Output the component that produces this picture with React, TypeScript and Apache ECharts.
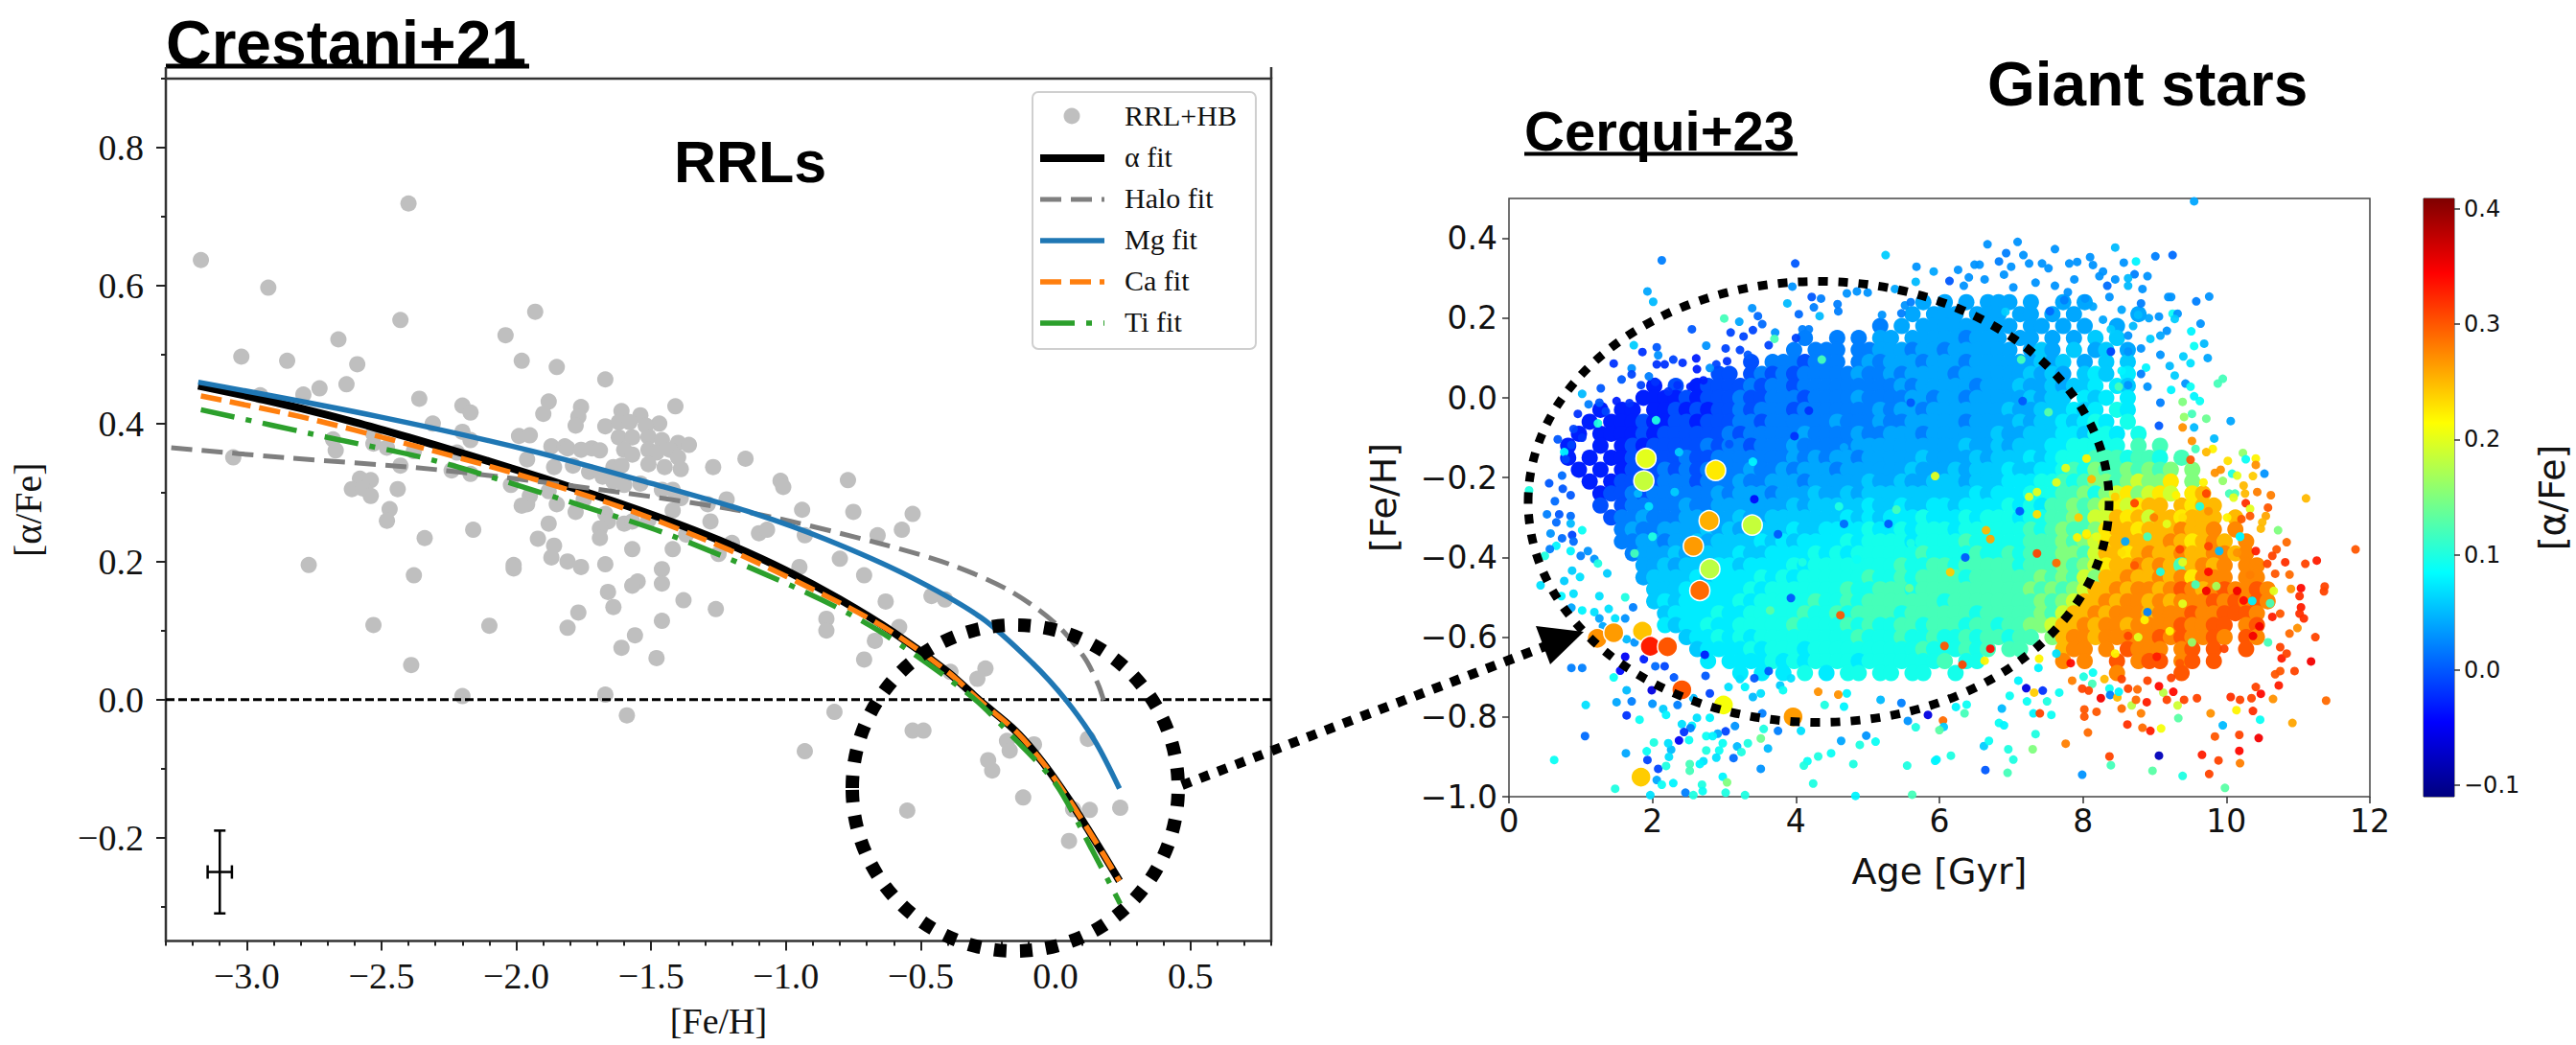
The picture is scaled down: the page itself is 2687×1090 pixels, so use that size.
import React, { useEffect, useRef } from "react";
import * as echarts from "echarts";

const W = 2687;
const H = 1090;
const SERIF = '"Liberation Serif", serif';
const SANS = '"DejaVu Sans", sans-serif';
const HELV = '"Liberation Sans", Arial, sans-serif';

// ---------- left panel: values ----------
const rrlPoints = [
  [-2.4,.719],[-3.17,.637],[-2.92,.597],[-2.43,.55],[-1.93,.562],[-2.04,.528],[-2.66,.522],[-3.02,.497],[-2.85,.491],[-1.98,.491],
  [-2.59,.486],[-1.85,.482],[-2.63,.457],[-2.73,.451],[-2.79,.442],[-2.95,.441],[-2.36,.436],[-1.88,.432],[-2.2,.426],[-2.17,.416],
  [-1.9,.414],[-2.31,.4],[-2.2,.388],[-2.17,.376],[-1.99,.382],[-1.95,.383],[-1.87,.367],[-1.82,.367],[-2.68,.377],[-2.67,.361],
  [-3.05,.351],[-2.53,.385],[-2.53,.371],[-2.48,.365],[-2.38,.36],[-1.96,.348],[-2.22,.358],[-2.43,.339],[-2.24,.332],[-2.17,.327],
  [-1.86,.337],[-2.58,.32],[-2.54,.318],[-2.61,.305],[-2.57,.306],[-2.54,.295],[-2.44,.305],[-2.02,.311],[-1.95,.295],[-1.96,.283],
  [-1.98,.281],[-1.88,.302],[-1.85,.283],[-2.47,.276],[-2.48,.259],[-1.88,.255],[-2.16,.246],[-2.34,.234],[-1.92,.233],[-1.86,.223],
  [-1.87,.206],[-2.77,.195],[-2.01,.195],[-1.67,.464],[-1.76,.424],[-1.77,.41],[-1.78,.397],[-1.41,.425],[-1.61,.418],[-1.54,.412],
  [-1.47,.4],[-1.67,.396],[-1.62,.402],[-1.58,.402],[-1.52,.397],[-1.62,.38],[-1.57,.38],[-1.51,.381],[-1.46,.376],[-1.4,.372],
  [-1.36,.369],[-1.6,.362],[-1.57,.355],[-1.51,.362],[-1.48,.358],[-1.43,.362],[-1.4,.351],[-1.81,.364],[-1.76,.362],[-1.72,.364],
  [-1.69,.361],[-1.79,.339],[-1.73,.33],[-1.64,.337],[-1.61,.339],[-1.68,.323],[-1.64,.316],[-1.51,.341],[-1.45,.337],[-1.39,.334],
  [-1.54,.313],[-1.6,.311],[-1.46,.304],[-1.42,.304],[-1.39,.292],[-1.27,.337],[-1.15,.349],[-1.02,.317],[-1.01,.308],[-1.29,.283],
  [-1.22,.29],[-.94,.275],[-1.42,.274],[-1.51,.26],[-1.6,.255],[-1.57,.258],[-1.67,.269],[-1.66,.258],[-1.78,.272],[-1.75,.29],
  [-1.69,.248],[-1.69,.234],[-1.81,.2],[-1.76,.192],[-1.67,.196],[-1.57,.218],[-1.42,.218],[-1.37,.239],[-1.28,.258],[-1.2,.227],
  [-1.1,.241],[-1.07,.246],[-.93,.238],[-1.25,.211],[-.95,.192],[-1.46,.189],[-1.55,.171],[-1.57,.165],[-1.46,.168],[-1.66,.156],
  [-1.38,.144],[-1.64,.134],[-1.26,.131],[-1.77,.126],[-1.46,.114],[-1.81,.104],[-1.56,.093],[-1.61,.075],[-1.48,.06],
  [-2.38,.18],[-2.01,.19],[-2.53,.108],[-2.1,.107],[-2.39,.05],[-2.2,.005],[-1.67,.007],[-1.59,-.023],[-.8,.204],[-.71,.18],
  [-.63,.142],[-.46,.15],[-.41,.145],[-.85,.117],[-.85,.1],[-.58,.105],[-.67,.085],[-.71,.058],[-.26,.045],[-.29,.03],
  [-.39,.04],[-.82,-.018],[-.53,-.045],[-.49,-.045],[-.93,-.075],[-.18,-.06],[-.17,-.074],[-.08,-.065],[.12,-.057],[-.25,-.088],
  [-.235,-.103],[-.12,-.142],[-.55,-.161],[.065,-.159],[.127,-.16],[.24,-.157],[.05,-.205],[-.77,.318],[-.53,.269],[-.75,.272],
  [-.57,.246],[-.66,.238],
];
const alphaFit = [[-3.18,.455],[-3,.44],[-2.8,.422],[-2.6,.402],[-2.4,.38],[-2.2,.357],[-2,.333],[-1.8,.308],[-1.6,.282],[-1.4,.254],[-1.2,.223],[-1,.187],[-.8,.145],[-.6,.097],[-.4,.04],[-.28,-.002],[-.15,-.045],[-.05,-.09],[.05,-.145],[.12,-.188],[.18,-.226],[.237,-.263]];
const haloFit = [[-3.28,.365],[-2.84,.35],[-2.29,.333],[-1.61,.3],[-1.12,.27],[-.66,.227],[-.385,.195],[-.167,.157],[0,.11],[.105,.062],[.16,.02],[.187,-.013]];
const mgFit = [[-3.18,.46],[-2.51,.41],[-1.94,.36],[-1.47,.31],[-1.12,.27],[-.85,.232],[-.55,.18],[-.277,.119],[-.086,.053],[.037,0],[.146,-.06],[.237,-.129]];
const caFit = [[-3.17,.44],[-2.8,.41],[-2.4,.37],[-2,.327],[-1.6,.277],[-1.2,.215],[-.8,.14],[-.6,.096],[-.4,.04],[-.28,-.002],[-.15,-.045],[-.05,-.09],[.05,-.145],[.12,-.188],[.18,-.226],[.237,-.263]];
const tiFit = [[-3.17,.42],[-2.7,.38],[-2.29,.345],[-1.75,.28],[-1.42,.237],[-.93,.156],[-.657,.1],[-.317,.006],[-.154,-.056],[0,-.122],[.133,-.216],[.24,-.296]];
const zeroLine = [[-3.3,0],[.8,0]];
const errorBars = [[-3.1,-.25,.045,.06]];
const xMajor = [-3,-2.5,-2,-1.5,-1,-.5,0,.5];
const xMinor = [-3.3,-3.2,-3.1,-2.9,-2.8,-2.7,-2.6,-2.4,-2.3,-2.2,-2.1,-1.9,-1.8,-1.7,-1.6,-1.4,-1.3,-1.2,-1.1,-.9,-.8,-.7,-.6,-.4,-.3,-.2,-.1,.1,.2,.3,.4,.6,.7,.8];
const yMajor = [-.2,0,.2,.4,.6,.8];
const yMinor = [-.3,-.1,.1,.3,.5,.7,.9];

// ---------- right panel: dense core, one row per [Fe/H] bin (0.03 dex), one character per 0.15 Gyr age bin ----------
const coreLevelKey = "0123456789abcd";
const coreLevels = [-.03,-.005,.02,.04,.058,.075,.095,.12,.15,.19,.225,.25,.275,.3];
const coreAgeBin = 0.15;
const coreFeH = [.24,.21,.18,.15,.12,.09,.06,.03,0,-.03,-.06,-.09,-.12,-.15,-.18,-.21,-.24,-.27,-.3,-.33,-.36,-.39,-.42,-.45,-.48,-.51,-.54,-.57,-.6,-.63,-.66,-.69];
const coreRows = [
  "..... ..... ..... ..... ..... ..... ..... ...3. 3.3.3 33.3. .3.3. ..... ..... ..... ..... .....",
  "..... ..... ..... ..... ..... ..... ..... ..3.3 33.33 3.33. 3.3.. ...3. ..... ..... ..... .....",
  "..... ..... ..... ..... ..... ..... ....2 .3.33 33333 33.33 .3.3. .3... ..... ..... ..... .....",
  "..... ..... ..... ..... ..... ..2.. 2.2.3 3.333 33233 3.33. 3.3.4 .4... ..... ..... ..... .....",
  "..... ..... ..... ..... ..... .2.22 2.223 33233 23333 33.34 3.4.3 4.3.. ..... ..... ..... .....",
  "..... ..... ..... ..... ..1.2 22122 2.232 33323 33233 33334 34.3. 4.4.. ..... ..... ..... .....",
  "..... ..... ..... ....1 1.121 21222 22322 32333 32333 33343 43.45 4.5.. ..... ..... ..... .....",
  "..... ..... ...0. 1.011 11212 21222 22222 23233 33323 33433 43445 .54.. ..... ..... ..... .....",
  "..... ..... ..000 01011 12112 22122 22322 22332 33233 33343 44.54 5.5.. ..... ..... ..... .....",
  "..... ...0. 00.00 10101 12122 21222 22223 23323 33333 34334 44545 .65.. ..... ..... ..... .....",
  "..... ..0.0 00100 11011 12212 22222 32223 22333 33233 33434 45456 5.6.. ..... ..... ..... .....",
  "..... .0.00 00101 11111 21222 22322 22322 33323 33333 43344 45546 65.6. ..... ..... ..... .....",
  "..... 0..0. 01011 11121 22122 23222 22333 33333 33433 43444 55666 66.7. 7.... ..... ..... .....",
  "..... 0.0.0 01111 12112 22222 23232 33233 33343 33343 44454 56667 77677 6.7.. ..... ..... .....",
  "..... .0.0. 01112 12122 22322 32333 23333 33433 34344 45445 56768 77878 78.8. ..... ..... .....",
  "..... ..0.0 11212 22122 23223 33233 33343 34334 44344 45556 67678 87898 8a.8. ..... ..... .....",
  "..... ...01 12122 22223 23332 33343 34344 44444 44454 55566 67786 89a89 a9.ab ..... ..... .....",
  "..... ...1. 12222 23223 33333 34344 44454 45445 54555 56565 77878 9a9ab b.bab b.... ..... .....",
  "..... ....1 22322 23333 34334 44444 45454 55565 55656 66566 77879 9bab9 bbabb b.b.. ..... .....",
  "..... ..... 23223 33343 43444 45445 55565 56566 65666 66676 78778 abbab bbcbb c.c.. ..... .....",
  "..... ..... 22332 33434 44454 54555 56566 66566 66766 66677 78789 abbbb bcbab cb.c. ..... .....",
  "..... ..... .2333 43444 45445 55565 65666 66676 66676 67677 78879 bbabc bbcbb ccbc. ..... .....",
  "..... ..... ..334 34445 54555 56566 66666 67667 76777 77677 78789 abbcb cb7bc bc.cc ..... .....",
  "..... ..... ..344 44545 55565 65666 66676 67677 77677 77778 78798 bbcbb cbcac cc.cc ..... .....",
  "..... ..... ...44 45455 55656 66666 67667 77677 77777 77787 8789b bcbcc bcdcb cdccd c.... .....",
  "..... ..... ...45 45555 56566 66676 67677 77777 67777 77778 789bb cbccb cbccc dcdcd c.... .....",
  "..... ..... ....4 55556 55666 66766 76777 76777 77767 77778 79bbc bcccb cccdc cdddc ..... .....",
  "..... ..... ....5 45565 56666 67666 67676 67767 77677 67788 9bbcb ccbcc ccdcc dd.cd ..... .....",
  "..... ..... ..... .4556 56566 66666 66766 67667 66767 7677. 8bccb ccccc dcdcc dc.dc ..... .....",
  "..... ..... ..... ..455 55656 66566 66666 66676 66767 .77.. .bcc. c.dcc c.cd. d..d. ..... .....",
  "..... ..... ..... ...5. 55556 56566 66566 66666 7.66. ..... .c.c. .d.cd d.cd. d.... ..... .....",
  "..... ..... ..... ..... .5.5. 5.6.5 .66.6 6.66. .6... ..... ..... .c... ..d.. ..... ..... .....",
];

// ---------- right panel: individually read stars [age, [Fe/H], [alpha/Fe]] ----------
const upperLeftStars = [
  [2.13,.345,.02],[3.99,.337,0],[5.25,.358,.06],[5.68,.329,.03],[5.92,.317,.04],[1.93,.267,.04],[2.01,.241,.05],[3,.199,.12],[3.21,.191,.04],[3.39,.225,.03],
  [3.95,.279,.03],[3.88,.237,.05],[4.22,.253,0],[4.35,.249,.02],[4.25,.227,.02],[4.58,.235,.02],[4.59,.217,.02],[4.04,.21,.01],[4.33,.205,.05],[4.71,.262,.03],
  [4.85,.267,.03],[5,.264,.03],[5.2,.208,.03],[5.67,.291,.05],[5.38,.273,.04],[5.52,.232,.03],[5.6,.24,.02],[5.47,.212,.02],[2.55,.172,0],[3.09,.164,-.01],
  [3.47,.205,.01],[3.53,.185,.01],[3.4,.17,-.01],[3.27,.154,-.01],[3.71,.164,.03],[3.7,.148,.12],[4,.15,-.01],[4.09,.172,.02],[4.18,.172,.02],[3.62,.132,-.01],
  [3.02,.124,-.01],[2.75,.131,.03],[3.22,.12,-.01],[3.33,.108,0],[1.86,.115,-.02],[2.06,.127,0],[2.08,.107,.03],[1.74,.132,.06],[1.46,.086,-.02],[1.71,.074,.03],
  [1.71,.059,-.01],[1.57,.046,0],[1.95,.054,.02],[1.84,.032,-.01],[2.06,.084,-.02],[2.17,.084,-.02],[2.29,.096,-.01],[2.42,.088,-.02],[2.61,.099,-.03],[2.62,.072,-.03],
  [2.89,.084,-.01],[2.8,.075,.03],[3.04,.092,-.02],[2.04,.04,-.02],[2.35,.032,-.02],[2.53,.028,-.03],[2.71,.044,-.03],[2.22,.016,-.02],[1.28,.024,0],[1.02,.01,.05],
  [1.5,-.008,-.03],[1.68,-.013,-.02],[1.26,-.012,0],[1.11,-.016,.02],[.96,-.04,-.02],[1.35,-.034,-.01],[1.24,-.064,.1],[.9,-.078,-.01],[.68,-.104,0],[1.02,-.1,-.02],
  [.87,-.118,-.01],[.77,-.136,.08],[.79,-.154,-.01],[.74,-.195,.01],[.56,-.214,0],[.75,-.228,0],[.28,-.232,.1],[.64,-.259,.01],[.86,-.244,0],[.53,-.292,.02],
  [.7,-.292,0],[.86,-.296,.01],[.66,-.312,.01],[.86,-.315,.05],[1.02,-.332,.09],[.58,-.34,.03],[.88,-.344,-.01],[.74,-.352,.01],[.9,-.36,.01],[.66,-.371,.08],
  [.57,-.379,.02],[.5,-.396,.1],[.86,-.384,.08],[1,-.396,.02],[1.1,-.384,.03],[1.19,-.404,.03],[1.24,-.415,.1],[.88,-.433,.06],[.99,-.449,.07],[.77,-.459,.06],
  [1.37,-.44,.06],[.44,-.47,.07],[.9,-.491,.07],[.73,-.497,.08],[1.26,-.497,.07],[.87,-.526,.04],[1.02,-.533,.08],[1.19,-.537,.07],[1.39,-.529,.07],[1.26,-.553,.04],
  [1.48,-.553,.07],[1.62,-.5,.1],[1.73,-.525,.02],[1.62,-.553,.03],[1.31,-.573,.04],[1.64,-.605,.05],[1.75,-.613,.03],
];
const upperRightStars = [
  [9.55,.493,.04],[6.67,.385,.03],[7.09,.391,.03],[7.61,.373,.03],[8.45,.377,.05],[9.01,.355,.02],[9.25,.358,.01],[8.74,.342,.08],[8.57,.339,.03],[6.93,.363,.02],
  [6.83,.342,.02],[7.17,.358,.03],[6.49,.334,.03],[6.56,.334,.03],[6.26,.321,.03],[6.14,.293,0],[7,.329,.03],[7.25,.337,.03],[7.43,.337,.03],[7.52,.325,.03],
  [7.81,.337,.03],[7.92,.341,.03],[8.1,.353,.03],[8.14,.333,.03],[8.28,.317,.03],[8.23,.305,.03],[8.72,.31,.02],[8.9,.305,.03],[8.63,.3,.05],[8.63,.281,.05],
  [8.83,.273,.03],[8.45,.297,.03],[8.34,.281,.01],[6.9,.309,.03],[6.63,.297,.03],[6.41,.302,.03],[6.34,.281,.03],[7.03,.277,.03],[7.34,.289,.03],[7.61,.281,.03],
  [7.88,.297,.03],[7.79,.265,.03],[8.03,.249,.03],[8.37,.253,.03],[9.19,.253,.03],[9.23,.253,.03],[9.76,.254,.03],[9.58,.242,.02],[8.81,.237,.02],[8.14,.229,.04],
  [7.74,.245,.02],[7.54,.217,.01],[8.28,.196,.04],[8.54,.221,.04],[8.77,.208,.05],[8.92,.2,.04],[9.06,.204,.03],[9.25,.211,.09],[9.32,.211,.03],[9.28,.198,.06],
  [9.64,.186,.03],[9.51,.167,.08],[8.39,.172,.06],[8.7,.18,.05],[9.17,.168,.03],[8.94,.148,.06],[9.08,.156,.04],[9.69,.136,.05],[9.55,.13,.09],[8.39,.116,-.01],
  [8.63,.156,.03],[8.63,.116,.03],[8.81,.124,.03],[9.08,.108,.03],[9.4,.104,.06],[9.74,.1,.04],[9.5,.087,.07],[9.21,.08,.05],[8.88,.076,.08],[8.54,.068,.08],
  [8.81,.06,.02],[9.95,.048,.12],[9.88,.036,.12],[8.63,.032,.03],[8.5,.028,.12],[8.9,.028,.03],[9.28,.056,.06],[9.43,.036,.03],[9.5,.028,.09],[9.23,.02,.08],
  [9.08,-.012,.02],[9.39,-.01,.15],[9.63,-.008,.09],[9.55,.004,.08],[9.52,-.04,.12],[9.72,-.052,.14],[9.41,-.048,.16],[10.06,-.058,.04],[9.06,-.07,0],[9.39,-.074,.27],
  [9.55,-.074,.05],[9.83,-.102,.05],[9.52,-.108,.27],[9.57,-.128,.12],[9.81,-.128,.22],[9.72,-.136,.25],[10.23,-.138,.16],[10.27,-.154,.09],[10.41,-.152,.22],[10.41,-.168,.27],
  [10.02,-.158,.23],[9.5,-.155,.3],[10.53,-.19,.03],[10.08,-.19,.1],[10.15,-.195,.2],[10.37,-.196,.24],[9.95,-.208,.16],[9.84,-.188,.27],[9.92,-.18,.27],[9.68,-.212,.22],
  [10.24,-.22,.25],[10.26,-.24,.25],[10.04,-.24,.12],[10.12,-.24,.12],[10.1,-.25,.2],[10.43,-.236,.28],[10.62,-.244,.28],[11.11,-.252,.25],[9.72,-.24,.31],[10.27,-.264,.32],
  [10.33,-.278,.2],[10.58,-.275,.3],[10.55,-.296,.26],[10.5,-.312,.25],[10.48,-.328,.25],[10.33,-.296,.3],[10.21,-.304,.3],[10.72,-.332,.15],[10.84,-.362,.29],[10.19,-.348,.1],
  [11.8,-.38,.3],[11.26,-.408,.33],[11.1,-.416,.31],[10.7,-.38,.3],[10.64,-.396,.31],[10.82,-.412,.32],[10.57,-.416,.31],[10.68,-.441,.3],[10.88,-.443,.29],[11.04,-.477,.34],
  [11.37,-.473,.31],[11.36,-.485,.31],[10.9,-.479,.27],[11.02,-.497,.32],[11.04,-.525,.33],[11.02,-.541,.32],[11.08,-.553,.32],
];
const lowerRightStars = [
  [11.39,-.759,.29],[10.92,-.815,.26],[10.47,-.807,.09],[10.14,-.783,.22],[10.37,-.785,.32],[9.95,-.821,.05],[9.78,-.791,.27],[9.33,-.803,.13],[9.32,-.771,.19],[8.89,-.763,.33],
  [8.68,-.771,.18],[8.54,-.779,.29],[8.81,-.791,.28],[8.02,-.781,.3],[8.02,-.799,.3],[8.19,-.787,.3],[8.62,-.819,.32],[8.83,-.827,.29],[8.94,-.835,.33],[9.09,-.829,.21],
  [8.07,-.839,.29],[7.76,-.867,.28],[8.37,-.899,.31],[8.39,-.921,.12],[7.99,-.945,.03],[9.06,-.897,-.08],[8.97,-.935,.13],[9.39,-.948,.1],[9.76,-.943,.31],[9.66,-.895,.33],
  [9.89,-.909,.31],[10.19,-.916,.28],[10.18,-.885,.34],[10.18,-.845,.31],[9.84,-.849,.3],[10.45,-.853,.35],[9.98,-.978,.13],[7.34,-.843,.1],[7.3,-.881,.15],[6.87,-.779,.05],
  [6.62,-.873,.06],[6.69,-.86,.09],[6.96,-.881,.1],[7.03,-.907,.1],[6.64,-.933,0],[6.95,-.94,.12],[6.16,-.897,.1],[5.96,-.907,.08],[6.83,-.815,.09],[6.9,-.821,.08],
  [6.05,-.809,.29],[6.06,-.825,.06],[6,-.833,.13],[7.21,-.728,-.06],[7.44,-.734,-.02],[7.32,-.739,.24],[7.56,-.795,.09],[7.31,-.791,.08],[7.4,-.791,.31],[7.67,-.739,.09],
  [7.5,-.761,.1],[7.22,-.761,.09],[6.98,-.747,.09],[7.1,-.709,.08],[7.38,-.677,.08],[7.63,-.641,.07],[7.39,-.654,.22],[6.63,-.659,.22],[6.71,-.629,.34],[6.32,-.669,.31],
  [6.07,-.622,.3],[6.38,-.769,.09],[6.35,-.791,.12],[6.23,-.775,.08],[7.83,-.665,.34],[7.85,-.709,.28],[8.01,-.699,.1],[8.14,-.689,.09],[8.13,-.717,.12],[7.99,-.729,.31],
  [8.08,-.734,.31],[8.37,-.729,.09],[8.38,-.745,.02],[8.25,-.753,.35],[8.48,-.751,.25],[8.5,-.737,.08],[8.3,-.705,.25],[8.54,-.705,.31],[8.63,-.729,.31],[8.76,-.731,.29],
  [8.74,-.757,.29],[9.12,-.739,.18],[9.06,-.723,.34],[9.26,-.737,.34],[9.17,-.757,.31],[9.41,-.757,.31],[9.59,-.753,.31],[9.23,-.702,.31],[8.9,-.709,.31],[10.06,-.75,.32],
  [10.19,-.757,.31],[10.35,-.753,.31],[10.48,-.742,.34],[10.65,-.755,.27],[10.73,-.721,.33],[10.41,-.725,.31],[10.68,-.693,.3],[10.75,-.685,.3],[10.95,-.685,.31],[11.18,-.661,.35],
  [10.77,-.653,.33],[10.84,-.641,.31],[10.75,-.625,.31],[10.58,-.613,.12],[10.88,-.591,.29],[10.99,-.577,.27],[11.24,-.6,.31],[10.64,-.549,.33],[10.75,-.541,.3],[10.61,-.515,.12],
  [10.36,-.509,.08],[10.66,-.484,.2],
];
const oldCoreSpeckles = [
  [9.72,-.484,.35],[9.39,-.412,.2],[9.75,-.436,.34],[9.57,-.468,.12],[9.86,-.472,.17],[9.39,-.516,.2],[8.9,-.537,.02],[9.52,-.613,.16],[9.21,-.585,.22],[8.77,-.6,.2],
  [8.45,-.641,.22],[8.86,-.557,.22],[10.37,-.597,.35],[10.24,-.508,.34],[10.15,-.484,.35],[10.46,-.573,.35],[9.97,-.629,.31],[9.35,-.665,.3],[9.03,-.649,.33],[8.63,-.597,.31],
  [8.72,-.42,.3],[8.54,-.388,.23],[9.08,-.436,.1],[8.9,-.348,.12],[9.17,-.316,.2],[9.39,-.3,.23],[9.63,-.272,.1],[9.9,-.384,.05],[10.19,-.348,.08],[10.01,-.3,.22],
  [8.99,-.3,.28],[8.72,-.264,.31],[9.3,-.244,.22],[9.75,-.284,.27],[9.35,-.38,.31],[9.75,-.372,.31],[10.15,-.388,.27],[10.41,-.384,.33],[10.33,-.444,.28],[8.59,-.36,.04],
  [8.19,-.348,.2],[8.05,-.344,.23],[6.36,-.4,0],[6.15,-.437,.24],[6.71,-.354,.26],[7.36,-.39,.31],[7.12,-.284,0],[6.65,-.332,.25],[7.36,-.236,.2],[7.63,-.212,.2],
  [7.25,-.248,.2],[7.76,-.176,.2],[8.05,-.152,.22],[8.12,-.204,.25],[8.45,-.248,.24],[7.94,-.3,.24],[8.05,-.34,.22],[7.36,-.292,.23],[7.92,-.35,.22],[7.63,-.414,.29],
  [7.14,.096,.12],[7.52,-.036,.13],[7.16,-.008,0],[6.92,.216,.06],
];
const youngCoreSpeckles = [
  [4.18,-.032,-.02],[3.98,-.096,-.02],[4.67,-.316,.01],[5.29,-.316,0],[3.75,-.342,0],[3.93,-.502,0],[3.42,-.254,-.04],[2.37,-.136,.06],[3.4,-.16,.08],[2,-.348,.1],
  [1.75,-.39,.12],[2.31,-.236,.06],[1.8,-.24,.05],[1.95,-.272,.07],[3.07,-.116,0],[4.67,-.124,.04],[5.6,-.012,0],[4.6,-.272,.1],[5.4,-.28,.12],[5.94,-.196,.2],
  [4.36,.096,.12],[2.05,-.056,.1],[4.62,-.545,.3],[3.64,-.533,.13],[4.09,-.412,.1],[5.58,-.477,.14],[4.85,-.405,.09],[5.6,-.364,.1],
];
const lowerLeftStars = [
  [.87,-.677,.02],[1.02,-.677,.02],[1.46,-.701,.09],[1.64,-.733,.05],[1.5,-.763,.04],[1.71,-.761,.02],[1.07,-.77,.07],[1.64,-.796,-.02],[1.82,-.807,.09],[1.06,-.848,.01],
  [2,-.767,.03],[2.15,-.78,.06],[2.19,-.795,.08],[1.99,-.733,-.06],[1.55,-.684,-.04],[1.62,-.649,-.05],[1.88,-.655,-.03],[2.04,-.673,.01],[2.17,-.673,-.01],[2.3,-.701,0],
  [2.35,-.77,.02],[2.57,-.753,.05],[2.74,-.697,0],[2.73,-.644,-.03],[2.8,-.741,-.01],[3.06,-.725,.07],[3.22,-.705,.07],[3.29,-.725,.08],[3.4,-.75,.05],[3.51,-.741,.07],
  [3.42,-.703,0],[3.62,-.685,0],[3.78,-.721,.06],[3.93,-.703,.07],[3.82,-.733,.09],[4.31,-.737,.27],[4.59,-.744,.27],[4.4,-.77,.1],[4.71,-.741,.08],[4.67,-.774,.08],
  [5.18,-.757,.05],[5.47,-.765,.02],[5.56,-.81,.03],[5.67,-.826,.1],[5.84,-.795,-.06],[4.98,-.847,.03],[5.11,-.862,.09],[4.89,-.87,.1],[4.63,-.86,.04],[4.8,-.918,.1],
  [4.49,-.891,.09],[4.31,-.899,.1],[4.16,-.911,.09],[4.11,-.922,.1],[5.55,-.922,.1],[5.94,-.91,.08],[4.24,-.967,.1],[5.62,-.995,.12],[4.83,-.998,.08],[3.75,-.835,.02],
  [4.07,-.835,.07],[3.53,-.791,.02],[3.55,-.83,.1],[3.51,-.854,.14],[3.61,-.879,.05],[3.51,-.93,.03],[3.15,-.823,.03],[3.02,-.836,-.01],[2.91,-.842,.04],[2.8,-.802,.08],
  [2.62,-.802,.07],[2.55,-.822,.08],[2.41,-.818,.07],[2.53,-.828,.02],[2.44,-.838,-.02],[2.37,-.859,-.05],[2.51,-.858,.09],[2.75,-.848,.09],[2.84,-.848,.08],[2.26,-.882,.05],
  [2.22,-.866,.07],[2.02,-.864,.1],[1.92,-.886,.09],[1.63,-.891,.04],[1.93,-.908,-.01],[2.23,-.9,.07],[2.08,-.93,-.01],[2.19,-.923,.1],[.63,-.908,.09],[2.52,-.918,.12],
  [2.52,-.935,.12],[2.71,-.911,.07],[2.66,-.918,.08],[2.75,-.884,.1],[2.98,-.866,.09],[2.93,-.884,.09],[2.89,-.902,.07],[3.13,-.903,.01],[3.18,-.874,.05],[3.24,-.888,.1],
  [3.33,-.866,.1],[2.98,-.95,.08],[3.04,-.964,.15],[2.06,-.958,.04],[2.13,-.97,.09],[2.29,-.966,.08],[1.48,-.98,.1],[2.69,-.97,.1],[2.7,-.986,.09],[2.46,-.99,.02],
  [1.97,-.996,.07],[3.02,-.99,.1],[2.57,-.996,.1],[3.29,-.996,.1],
];
const highlightedStars = [
  [1.91,-.152,.2],[1.88,-.208,.185],[2.88,-.182,.225],[2.79,-.308,.255],[3.39,-.319,.185],[2.57,-.372,.265],[2.8,-.429,.18],[2.66,-.483,.29],
  [1.23,-.603,.27],[1.46,-.589,.265],[1.86,-.585,.245],[1.97,-.623,.33],[2.21,-.624,.3],[2.41,-.732,.3],[2.99,-.77,.21],[3.96,-.8,.265],[1.84,-.951,.24],
];
const ageTicks = [0,2,4,6,8,10,12];
const fehTicks = [-1,-.8,-.6,-.4,-.2,0,.2,.4];
const colorbarTicks = [-.1,0,.1,.2,.3,.4];
const colorbarRange = [[0,-.11,.409]];
const jet = ["#00007f","#0000ff","#007fff","#00ffff","#7fff7f","#ffff00","#ff7f00","#ff0000","#7f0000"];

const coreStars = coreRows.flatMap((row, r) =>
  row.replace(/ /g, "").split("").flatMap((c, i) =>
    c === "." ? [] : [[(i + 0.5) * coreAgeBin, coreFeH[r], coreLevels[coreLevelKey.indexOf(c)]]]
  )
);

const fmt1 = (v: number) => v.toFixed(1).replace("-", "\u2212");
const dark = "#333333";

function minorAxis(gridIndex: number, position: string, values: number[], min: number, max: number) {
  return {
    gridIndex, min, max, type: "value", position,
    axisLine: { show: false, onZero: false },
    axisLabel: { show: false },
    splitLine: { show: false },
    axisTick: { show: true, length: 5, customValues: values, lineStyle: { color: "#222", width: 2 } },
  };
}

const scatterDots = (data: number[][]) => ({
  type: "scatter" as const, xAxisIndex: 2, yAxisIndex: 2, data, symbolSize: 9, silent: true,
  itemStyle: { opacity: 0.95 },
});

const swatch = (y: number, color: string, lineWidth: number, lineDash?: number[]) => ({
  type: "line", z: 100, shape: { x1: 1085, y1: y, x2: 1152, y2: y }, style: { stroke: color, lineWidth, lineDash },
});

export default function App() {
  const ref = useRef<HTMLDivElement>(null);
  useEffect(() => {
    document.body.style.margin = "0";
    document.body.style.background = "#fff";
    const chart = echarts.init(ref.current!, undefined, { renderer: "svg", width: W, height: H });
    const option: any = {
      animation: false,
      backgroundColor: "#fff",
      grid: [
        { left: 173, top: 82, width: 1153, height: 899.5, show: true, borderColor: dark, borderWidth: 2.5, backgroundColor: "transparent", outerBoundsMode: "none" },
        { left: 1574, top: 207, width: 898, height: 624, show: true, borderColor: "#444", borderWidth: 1.5, backgroundColor: "transparent", outerBoundsMode: "none" },
        { left: 2528, top: 207, width: 32, height: 624, show: true, borderColor: "#333", borderWidth: 1, backgroundColor: "transparent", outerBoundsMode: "none" },
      ],
      xAxis: [
        {
          gridIndex: 0, type: "value", position: "bottom", min: -3.3, max: 0.8, name: "[Fe/H]", nameLocation: "middle", nameGap: 64,
          nameTextStyle: { fontFamily: SERIF, fontSize: 38, color: "#111" },
          axisLine: { show: false, onZero: false }, splitLine: { show: false },
          axisTick: { length: 10, customValues: xMajor, lineStyle: { color: "#222", width: 2 } },
          axisLabel: { customValues: xMajor, formatter: fmt1, margin: 17, fontFamily: SERIF, fontSize: 38, color: "#111" },
        },
        minorAxis(0, "bottom", xMinor, -3.3, 0.8),
        {
          gridIndex: 1, type: "value", min: 0, max: 12, name: "Age [Gyr]", nameLocation: "middle", nameGap: 59,
          nameTextStyle: { fontFamily: SANS, fontSize: 38, color: "#111" },
          axisLine: { show: false, onZero: false }, splitLine: { show: false },
          axisTick: { length: 7, customValues: ageTicks, lineStyle: { color: "#333", width: 1.5 } },
          axisLabel: { customValues: ageTicks, formatter: (v: number) => String(v), margin: 9, fontFamily: SANS, fontSize: 33, color: "#111" },
        },
        { gridIndex: 2, type: "value", min: 0, max: 1, show: false },
      ],
      yAxis: [
        {
          gridIndex: 0, type: "value", position: "left", min: -0.35, max: 0.9, name: "[\u03b1/Fe]", nameLocation: "middle", nameGap: 124, nameRotate: 90,
          nameTextStyle: { fontFamily: SERIF, fontSize: 40, color: "#111" },
          axisLine: { show: false, onZero: false }, splitLine: { show: false },
          axisTick: { length: 10, customValues: yMajor, lineStyle: { color: "#222", width: 2 } },
          axisLabel: { customValues: yMajor, formatter: fmt1, margin: 23, fontFamily: SERIF, fontSize: 38, color: "#111" },
        },
        minorAxis(0, "left", yMinor, -0.35, 0.9),
        {
          gridIndex: 1, type: "value", min: -1, max: 0.5, name: "[Fe/H]", nameLocation: "middle", nameGap: 112, nameRotate: 90,
          nameTextStyle: { fontFamily: SANS, fontSize: 38, color: "#111" },
          axisLine: { show: false, onZero: false }, splitLine: { show: false },
          axisTick: { length: 7, customValues: fehTicks, lineStyle: { color: "#333", width: 1.5 } },
          axisLabel: { customValues: fehTicks, formatter: fmt1, margin: 12, fontFamily: SANS, fontSize: 33, color: "#111" },
        },
        {
          gridIndex: 2, type: "value", min: -0.11, max: 0.409, position: "right", name: "[\u03b1/Fe]", nameLocation: "middle", nameGap: 83, nameRotate: 90,
          nameTextStyle: { fontFamily: SANS, fontSize: 38, color: "#111" },
          axisLine: { show: false, onZero: false }, splitLine: { show: false },
          axisTick: { length: 6, customValues: colorbarTicks, lineStyle: { color: "#333", width: 1.5 } },
          axisLabel: { customValues: colorbarTicks, formatter: fmt1, margin: 10, fontFamily: SANS, fontSize: 24, color: "#111" },
        },
      ],
      legend: {
        left: 1077, top: 96, orient: "vertical", selectedMode: false, itemWidth: 67, itemHeight: 17, itemGap: 13,
        padding: [9, 20, 14, 8], borderColor: "#cfcfcf", borderWidth: 2, borderRadius: 6, backgroundColor: "rgba(255,255,255,0.9)",
        itemStyle: { opacity: 0 }, lineStyle: { opacity: 0 },
        textStyle: { fontFamily: SERIF, fontSize: 30, color: "#111", padding: [0, 0, 0, 15] },
        data: ["RRL+HB", "\u03b1 fit", "Halo fit", "Mg fit", "Ca fit", "Ti fit"],
      },
      visualMap: {
        show: false, type: "continuous", min: -0.11, max: 0.409, dimension: 2,
        seriesIndex: [8, 9, 10, 11, 12, 13, 14, 15],
        inRange: { color: jet },
      },
      series: [
        { name: "RRL+HB", type: "scatter", xAxisIndex: 0, yAxisIndex: 0, data: rrlPoints, symbolSize: 17, itemStyle: { color: "#bfbfbf", opacity: 1 } },
        {
          name: "zero", type: "line", xAxisIndex: 0, yAxisIndex: 0, data: zeroLine, symbol: "none",
          lineStyle: { color: "#000", width: 3, type: [9, 4] },
        },
        { name: "\u03b1 fit", type: "line", xAxisIndex: 0, yAxisIndex: 0, data: alphaFit, symbol: "none", smooth: 0.3, lineStyle: { color: "#000", width: 8 }, itemStyle: { color: "#000" } },
        { name: "Halo fit", type: "line", xAxisIndex: 0, yAxisIndex: 0, data: haloFit, symbol: "none", smooth: 0.3, lineStyle: { color: "#7f7f7f", width: 5, type: [22, 10] }, itemStyle: { color: "#7f7f7f" } },
        { name: "Mg fit", type: "line", xAxisIndex: 0, yAxisIndex: 0, data: mgFit, symbol: "none", smooth: 0.3, lineStyle: { color: "#1f77b4", width: 5.5 }, itemStyle: { color: "#1f77b4" } },
        { name: "Ca fit", type: "line", xAxisIndex: 0, yAxisIndex: 0, data: caFit, symbol: "none", smooth: 0.3, lineStyle: { color: "#ff7f0e", width: 5.5, type: [22, 9] }, itemStyle: { color: "#ff7f0e" } },
        { name: "Ti fit", type: "line", xAxisIndex: 0, yAxisIndex: 0, data: tiFit, symbol: "none", smooth: 0.3, lineStyle: { color: "#2ca02c", width: 5.5, type: [36, 12, 6, 12] }, itemStyle: { color: "#2ca02c" } },
        {
          name: "errors", type: "custom", xAxisIndex: 0, yAxisIndex: 0, data: errorBars, silent: true,
          renderItem: (_p: any, api: any) => {
            const x = api.value(0), y = api.value(1), dx = api.value(2), dy = api.value(3);
            const c = api.coord([x, y]), t = api.coord([x, y + dy]), b = api.coord([x, y - dy]), l = api.coord([x - dx, y]), r = api.coord([x + dx, y]);
            const s = { stroke: "#000", lineWidth: 2.5 };
            const ln = (a: number[], e: number[]) => ({ type: "line", shape: { x1: a[0], y1: a[1], x2: e[0], y2: e[1] }, style: s });
            return {
              type: "group",
              children: [
                ln(t, b), ln(l, r),
                ln([t[0] - 6, t[1]], [t[0] + 6, t[1]]), ln([b[0] - 6, b[1]], [b[0] + 6, b[1]]),
                ln([l[0], c[1] - 7], [l[0], c[1] + 7]), ln([r[0], c[1] - 7], [r[0], c[1] + 7]),
              ],
            };
          },
        },
        // series index 8 onward: right panel, coloured by [alpha/Fe]
        { type: "scatter", xAxisIndex: 2, yAxisIndex: 2, data: coreStars, symbolSize: 17, silent: true, itemStyle: { opacity: 1 } },
        scatterDots(upperLeftStars),
        scatterDots(upperRightStars),
        scatterDots(lowerRightStars),
        scatterDots(oldCoreSpeckles),
        scatterDots(youngCoreSpeckles),
        scatterDots(lowerLeftStars),
        {
          type: "scatter", xAxisIndex: 2, yAxisIndex: 2, data: highlightedStars, symbolSize: 21, silent: true,
          itemStyle: { borderColor: "#fff", borderWidth: 1.5, opacity: 1 },
        },
        {
          name: "colorbar", type: "custom", xAxisIndex: 3, yAxisIndex: 3, data: colorbarRange, silent: true,
          encode: { y: [1, 2] },
          renderItem: (_p: any, api: any) => {
            const a = api.coord([api.value(0), api.value(1)]);
            const b = api.coord([1, api.value(2)]);
            const stops = jet.map((color, i) => ({ offset: i / (jet.length - 1), color }));
            return {
              type: "rect",
              shape: { x: a[0], y: b[1], width: b[0] - a[0], height: a[1] - b[1] },
              style: { fill: new echarts.graphic.LinearGradient(0, 1, 0, 0, stops) },
            };
          },
        },
      ],
      graphic: [
        { type: "text", z: 100, left: 173, top: 12, style: { text: "Crestani+21", font: `bold 66px ${HELV}`, fill: "#000" } },
        { type: "rect", z: 100, shape: { x: 173, y: 66.5, width: 379, height: 5 }, style: { fill: "#000" } },
        { type: "text", z: 100, left: 703, top: 138, style: { text: "RRLs", font: `bold 61px ${HELV}`, fill: "#000" } },
        { type: "text", z: 100, left: 2073, top: 56, style: { text: "Giant stars", font: `bold 64px ${HELV}`, fill: "#000" } },
        { type: "text", z: 100, left: 1590, top: 107, style: { text: "Cerqui+23", font: `bold 58px ${HELV}`, fill: "#000" } },
        { type: "rect", z: 100, shape: { x: 1590, y: 158.5, width: 285, height: 4 }, style: { fill: "#000" } },
        { type: "line", z: 100, shape: { x1: 173, y1: 70, x2: 173, y2: 82 }, style: { stroke: dark, lineWidth: 2.5 } },
        { type: "line", z: 100, shape: { x1: 1326, y1: 70, x2: 1326, y2: 82 }, style: { stroke: dark, lineWidth: 2.5 } },
        { type: "circle", z: 100, shape: { cx: 1118, cy: 121, r: 8.5 }, style: { fill: "#bfbfbf" } },
        swatch(165, "#000", 8),
        swatch(208, "#7f7f7f", 5, [22, 10]),
        swatch(251, "#1f77b4", 5.5),
        swatch(294, "#ff7f0e", 5.5, [22, 9]),
        swatch(337, "#2ca02c", 5.5, [36, 12, 6, 12]),
        { type: "ellipse", z: 100, shape: { cx: 1059, cy: 822, rx: 170, ry: 170 }, style: { fill: "none", stroke: "#000", lineWidth: 14, lineDash: [13, 14] } },
        { type: "ellipse", z: 100, shape: { cx: 1897, cy: 523.5, rx: 303, ry: 230 }, style: { fill: "none", stroke: "#000", lineWidth: 9, lineDash: [10, 11] } },
        { type: "line", z: 100, shape: { x1: 1233, y1: 819, x2: 1612, y2: 674 }, style: { stroke: "#000", lineWidth: 10, lineDash: [10, 10] } },
        { type: "polygon", z: 100, shape: { points: [[1602, 653], [1652, 659], [1617, 693]] }, style: { fill: "#000" } },
      ],
    };
    chart.setOption(option);
    return () => chart.dispose();
  }, []);
  return <div ref={ref} style={{ position: "fixed", left: 0, top: 0, width: W, height: H, overflow: "hidden", background: "#fff" }} />;
}
